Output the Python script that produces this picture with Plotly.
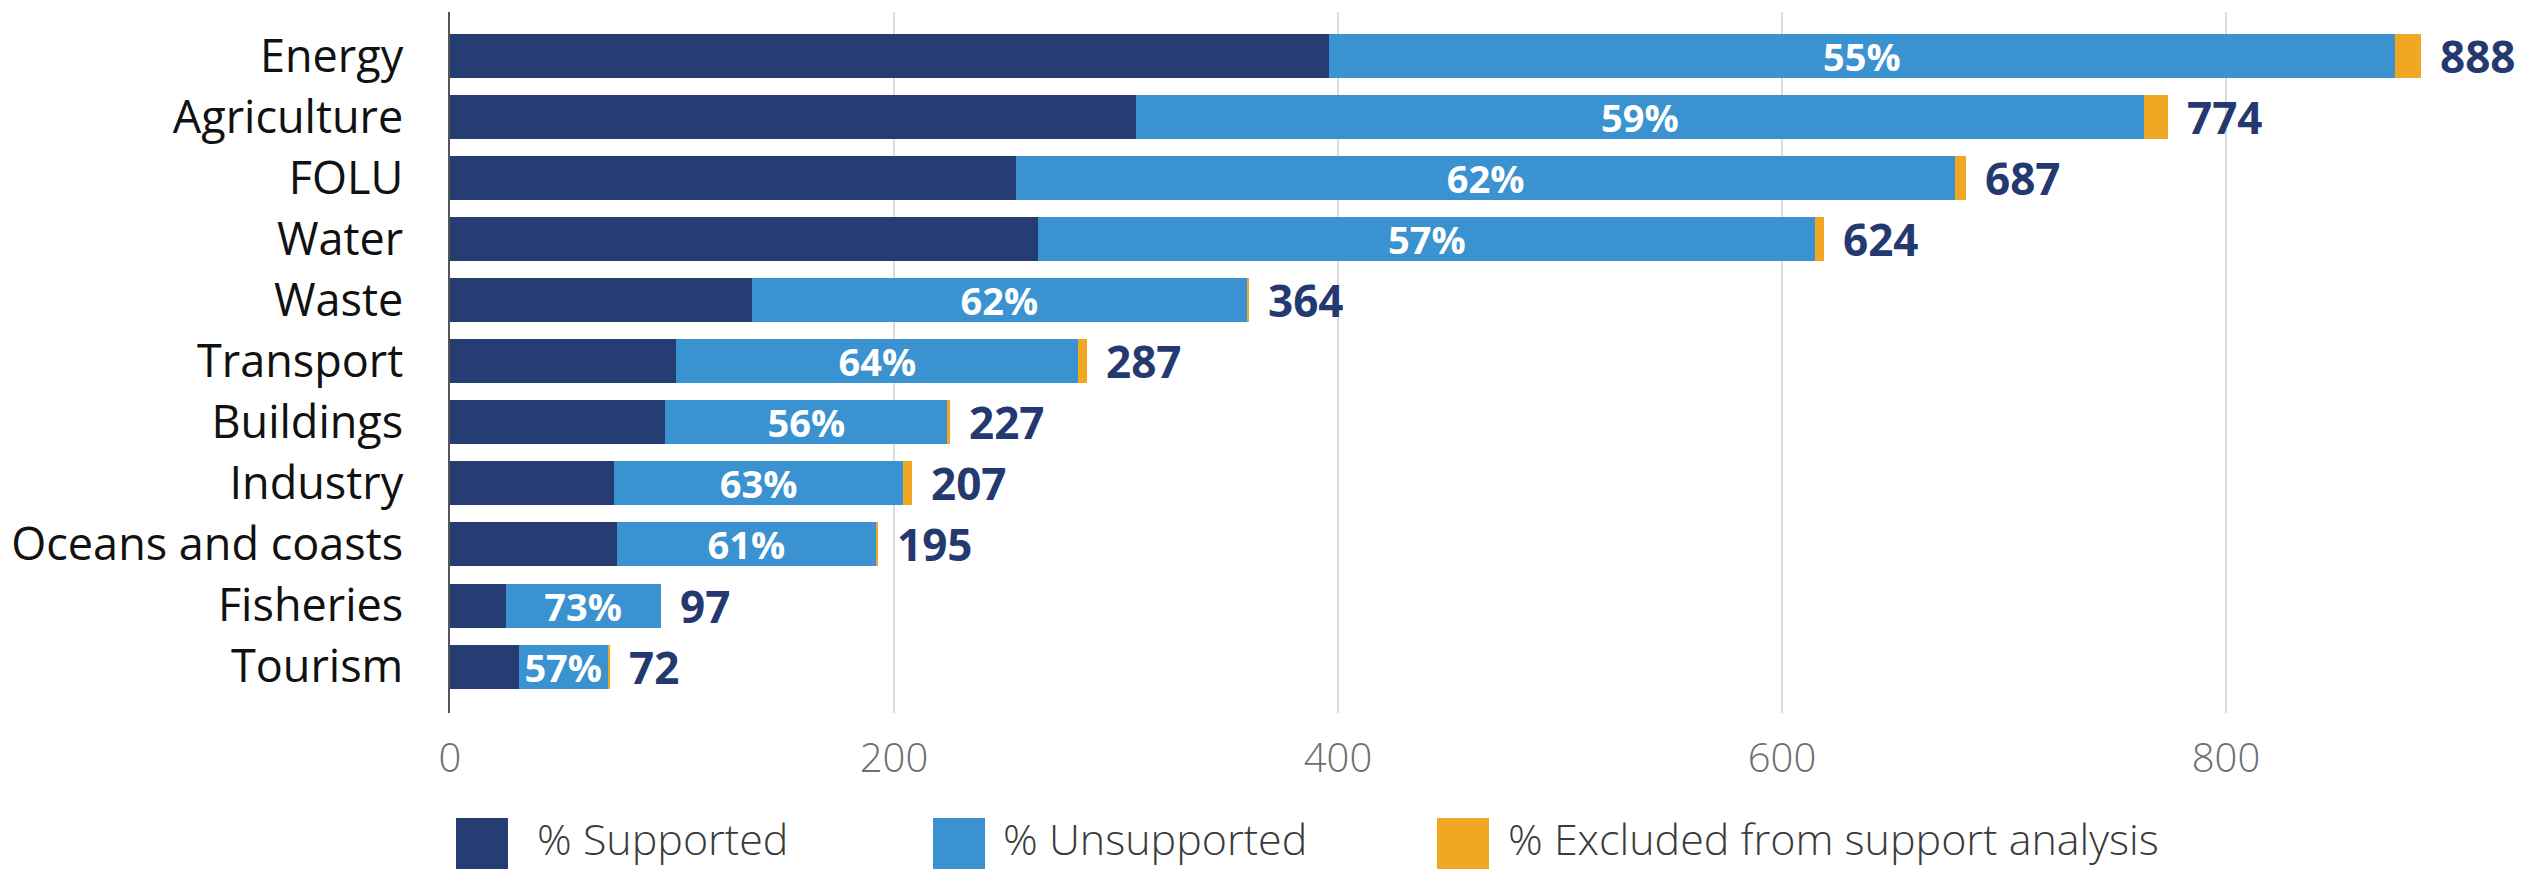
import plotly.graph_objects as go

categories = ["Energy", "Agriculture", "FOLU", "Water", "Waste", "Transport",
              "Buildings", "Industry", "Oceans and coasts", "Fisheries", "Tourism"]
supported = [396, 309, 255, 265, 136, 102, 97, 74, 75, 25, 31]
unsupported = [480, 454, 423, 350, 223, 181, 127, 130, 117, 70, 40]
excluded = [12, 11, 5, 4, 1, 4, 1, 4, 1, 0, 1]
totals = [888, 774, 687, 624, 364, 287, 227, 207, 195, 97, 72]
unsupported_pct = ["55%", "59%", "62%", "57%", "62%", "64%", "56%", "63%", "61%", "73%", "57%"]
x_ticks = [0, 200, 400, 600, 800]

series_names = ["% Supported", "% Unsupported", "% Excluded from support analysis"]
colors = ["#253d73", "#3a92d0", "#f0a824"]
label_color = "#24396f"

# the page body has an 8px margin; lay out in figure pixels (page px - 8)
OFF = 8
W, H = 2529 - OFF, 869 - OFF
ML = 450 - OFF
MT = 12 - OFF
plot_bottom = 713 - OFF
plot_right = 2514 - OFF
MB = H - plot_bottom
MR = W - plot_right
plot_w = W - ML - MR
plot_h = H - MT - MB
x_max = plot_w / 2.22

fig = go.Figure()
for name, vals, col in zip(series_names, [supported, unsupported, excluded], colors):
    kw = {}
    if name == "% Unsupported":
        kw = dict(text=unsupported_pct, textposition="inside", insidetextanchor="middle",
                  textfont=dict(family="Open Sans", size=38, color="white", weight="bold"),
                  constraintext="none", textangle=0)
    fig.add_trace(go.Bar(y=categories, x=vals, orientation="h", name=name,
                         marker=dict(color=col, line=dict(width=0)),
                         showlegend=False, hoverinfo="x+name", **kw))

sums = [s + u + e for s, u, e in zip(supported, unsupported, excluded)]
for cat, sm, tot in zip(categories, sums, totals):
    fig.add_annotation(x=sm, y=cat, text=str(tot), showarrow=False, xanchor="left",
                       yanchor="middle", xshift=17,
                       font=dict(family="Open Sans", size=44, color=label_color, weight="bold"))

# manual legend (large swatches), positions in page pixels
legend_px = [(456, 535), (933, 1001), (1437, 1506)]
sw = 52
y_top_px, y_bot_px, y_mid_px = 818, 872, 838
for (sx, tx), name, col in zip(legend_px, series_names, colors):
    fig.add_shape(type="rect", xref="paper", yref="paper",
                  x0=(sx - OFF - ML) / plot_w, x1=(sx + sw - OFF - ML) / plot_w,
                  y0=(plot_bottom - (y_bot_px - OFF)) / plot_h,
                  y1=(plot_bottom - (y_top_px - OFF)) / plot_h,
                  fillcolor=col, line=dict(width=0), layer="above")
    fig.add_annotation(xref="paper", yref="paper", x=(tx - OFF - ML) / plot_w,
                       y=(plot_bottom - (y_mid_px - OFF)) / plot_h, text=name, showarrow=False,
                       xanchor="left", yanchor="middle",
                       font=dict(family="Open Sans", size=43, color="#3a3a3a", weight=300))

fig.update_layout(
    barmode="stack", bargap=0.28,
    width=W, height=H,
    margin=dict(l=ML, r=MR, t=MT, b=MB, pad=0, autoexpand=False),
    paper_bgcolor="white", plot_bgcolor="white",
    font=dict(family="Open Sans", color="#111111"),
    showlegend=False,
)
fig.update_xaxes(range=[0, x_max], tickvals=x_ticks, ticktext=[str(v) for v in x_ticks],
                 showgrid=True, gridcolor="#dcdcdc", gridwidth=2, zeroline=False,
                 ticks="outside", ticklen=10, tickcolor="rgba(0,0,0,0)",
                 tickfont=dict(family="Open Sans", size=40, color="#6e6e6e", weight=300),
                 showline=False, fixedrange=True, automargin=False)
fig.update_yaxes(categoryorder="array", categoryarray=categories,
                 range=[10.76, -0.72], showline=True, linecolor="#555555", linewidth=1.5,
                 ticks="outside", ticklen=36, tickcolor="rgba(0,0,0,0)",
                 tickfont=dict(family="Open Sans", size=45, color="#111111"),
                 showgrid=False, fixedrange=True, automargin=False)

fig.write_html("out.html")
